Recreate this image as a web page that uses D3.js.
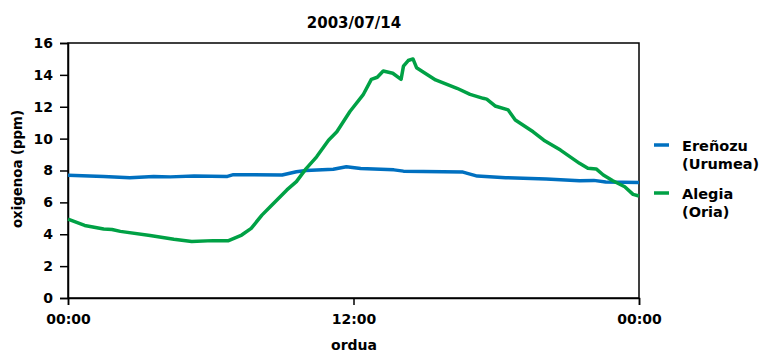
<!DOCTYPE html>
<html>
<head>
<meta charset="utf-8">
<script src="https://cdn.jsdelivr.net/npm/d3@7"></script>
<style>
  body { margin: 0; background: #fff; }
  text { font-family: "DejaVu Sans", sans-serif; font-weight: bold; fill: #000; }
</style>
</head>
<body>
<div id="chart"></div>
<script>
// data (hours since midnight, ppm)
const title = "2003/07/14";
const xTickHours = [0, 12, 24];
const xTickLabels = ["00:00", "12:00", "00:00"];
const yTicks = [0, 2, 4, 6, 8, 10, 12, 14, 16];

const seriesNames = [["Ereñozu", "(Urumea)"], ["Alegia", "(Oria)"]];
const seriesColors = ["#0070c0", "#00a145"];

const blueHours = [0, 1.5, 2.6, 3.6, 4.3, 5.3, 6.7, 6.95, 9.0, 9.6, 10.0, 11.15, 11.7, 12.3, 13.7, 14.1, 16.6, 17.2, 18.4, 20.1, 21.5, 22.1, 22.6, 24];
const blueValues = [7.7, 7.62, 7.55, 7.62, 7.6, 7.65, 7.63, 7.74, 7.72, 7.92, 8.0, 8.08, 8.24, 8.12, 8.04, 7.96, 7.9, 7.65, 7.55, 7.46, 7.36, 7.38, 7.28, 7.25];

const greenHours = [0, 0.7, 1.5, 1.85, 2.2, 3.45, 4.45, 5.2, 6.1, 6.75, 7.3, 7.7, 8.15, 8.5, 9.2, 9.6, 10.0, 10.45, 10.95, 11.3, 11.85, 12.4, 12.75, 13.0, 13.25, 13.65, 14.0, 14.1, 14.3, 14.5, 14.65, 15.45, 16.35, 16.9, 17.45, 17.6, 17.95, 18.5, 18.8, 19.55, 20.0, 20.7, 21.5, 21.85, 22.2, 22.5, 22.9, 23.4, 23.75, 24];
const greenValues = [4.95, 4.55, 4.33, 4.3, 4.18, 3.92, 3.68, 3.55, 3.6, 3.6, 3.95, 4.37, 5.2, 5.73, 6.78, 7.3, 8.1, 8.86, 9.9, 10.43, 11.7, 12.74, 13.72, 13.85, 14.24, 14.1, 13.72, 14.55, 14.9, 15.0, 14.45, 13.68, 13.16, 12.78, 12.53, 12.48, 12.05, 11.8, 11.17, 10.43, 9.9, 9.28, 8.45, 8.14, 8.1, 7.72, 7.36, 6.98, 6.5, 6.4];

const width = 759, height = 351;
const margin = { top: 43, right: 120, bottom: 53, left: 68 };
const plotW = 639 - margin.left, plotH = 298 - margin.top;

const svg = d3.select("#chart").append("svg")
  .attr("width", width)
  .attr("height", height);

const g = svg.append("g").attr("transform", `translate(${margin.left},${margin.top})`);

const x = d3.scaleLinear().domain([0, 24]).range([0, plotW]);
const y = d3.scaleLinear().domain([0, 16]).range([plotH, 0]);

// frame
g.append("rect")
  .attr("width", plotW).attr("height", plotH)
  .attr("fill", "none").attr("stroke", "#000").attr("stroke-width", 1.5);

// y axis
const yAxis = g.append("g")
  .call(d3.axisLeft(y).tickValues(yTicks).tickSize(8).tickPadding(7));
// x axis
const xAxis = g.append("g")
  .attr("transform", `translate(0,${plotH})`)
  .call(d3.axisBottom(x).tickValues(xTickHours).tickSize(7).tickPadding(9)
    .tickFormat((d, i) => xTickLabels[i]));

[yAxis, xAxis].forEach(a => {
  a.select(".domain").attr("stroke-width", 1.5);
  a.selectAll(".tick line").attr("stroke-width", 1.5);
  a.selectAll("text").style("font-size", "14px").attr("fill", "#000");
});

// lines
const line = d3.line().x(d => x(d[0])).y(d => y(d[1]));
const series = [
  d3.zip(blueHours, blueValues),
  d3.zip(greenHours, greenValues)
];
series.forEach((s, i) => {
  g.append("path")
    .datum(s)
    .attr("fill", "none")
    .attr("stroke", seriesColors[i])
    .attr("stroke-width", 3.5)
    .attr("stroke-linejoin", "round")
    .attr("d", line);
});

// title and axis labels
svg.append("text")
  .attr("x", 354).attr("y", 28)
  .attr("text-anchor", "middle")
  .style("font-size", "15px")
  .text(title);

svg.append("text")
  .attr("transform", "translate(22,169) rotate(-90)")
  .attr("text-anchor", "middle")
  .style("font-size", "13.3px")
  .text("oxigenoa (ppm)");

svg.append("text")
  .attr("x", 354).attr("y", 350)
  .attr("text-anchor", "middle")
  .style("font-size", "14px")
  .text("ordua");

// legend
const legendY = [145, 193];
seriesNames.forEach((names, i) => {
  const lg = svg.append("g").attr("transform", `translate(654,${legendY[i]})`);
  lg.append("line")
    .attr("x1", 0).attr("x2", 15)
    .attr("stroke", seriesColors[i]).attr("stroke-width", 3.5);
  names.forEach((t, j) => {
    lg.append("text")
      .attr("x", 28).attr("y", 6 + j * 18)
      .style("font-size", "14.5px")
      .text(t);
  });
});
</script>
</body>
</html>
